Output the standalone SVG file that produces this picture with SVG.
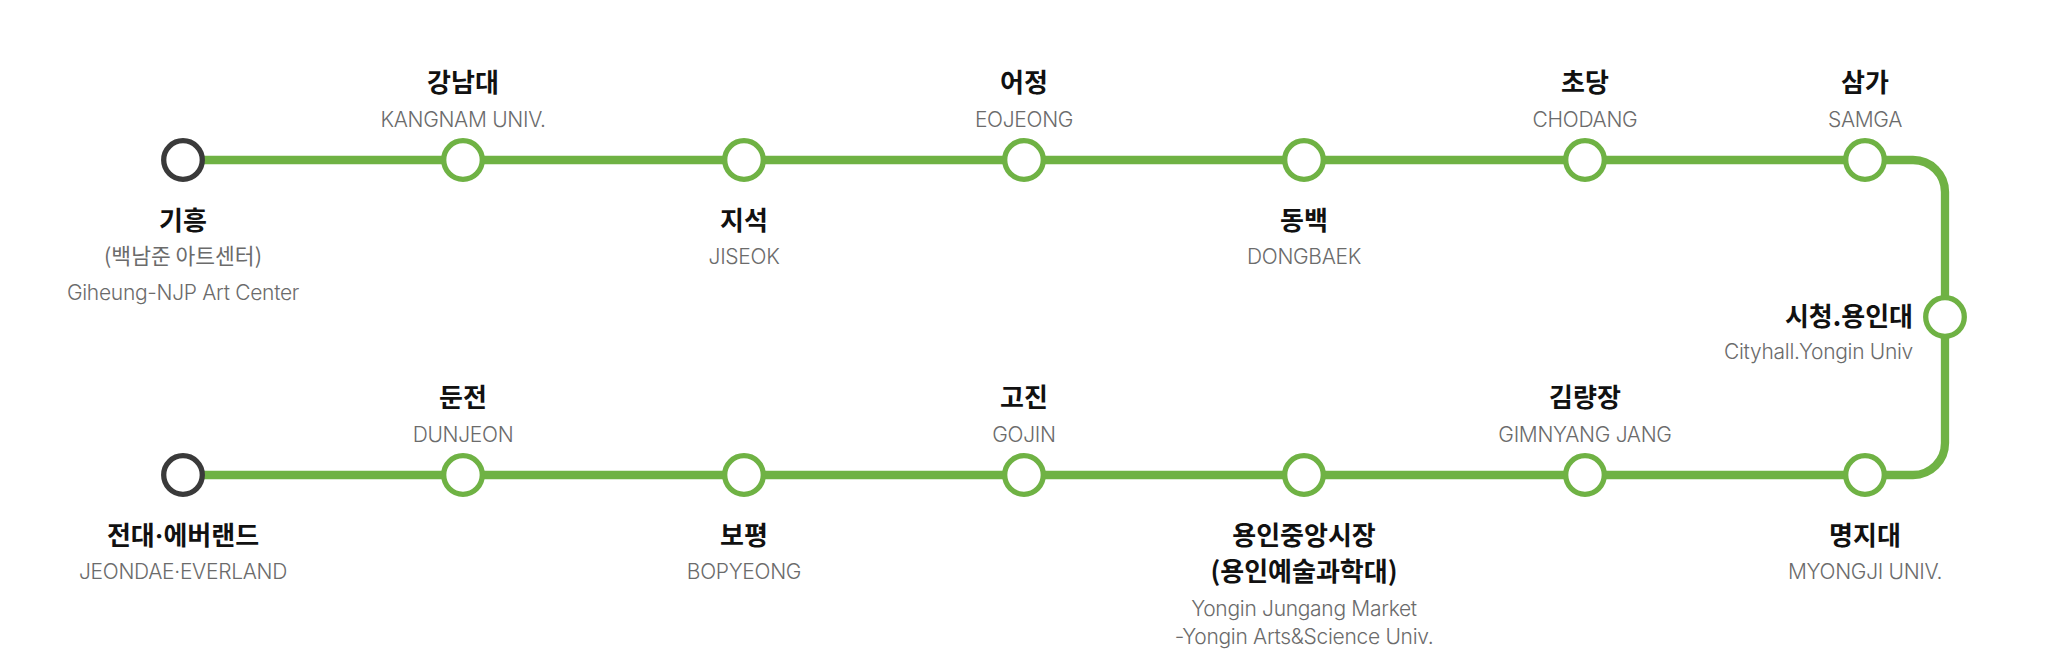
<svg xmlns="http://www.w3.org/2000/svg" width="2069" height="665" viewBox="0 0 2069 665">
<style>
.ko{font-family:"Noto Sans CJK KR","Noto Sans",sans-serif;font-weight:700;font-size:26px;fill:#111;text-anchor:middle}
.ks{font-family:"Noto Sans CJK KR","Noto Sans",sans-serif;font-weight:400;font-size:21.5px;fill:#6b6b6b;text-anchor:middle}
.en{font-family:Inter,"Liberation Sans",sans-serif;font-weight:300;font-size:21px;fill:#6b6b6b;text-anchor:middle;letter-spacing:-0.3px}
.dot{font-family:Inter,"Liberation Sans",sans-serif;font-weight:700}
.st{fill:#fff;stroke:#6fb244;stroke-width:5.3}
.term{fill:#fff;stroke:#3a3a3a;stroke-width:5.3}
.end{text-anchor:end}
</style>
<rect width="2069" height="665" fill="#fff"/>
<g id="connectors">
<path d="M183,160 H1913 A32,32 0 0 1 1945,192 V443 A32,32 0 0 1 1913,475 H183" fill="none" stroke="#6fb244" stroke-width="8.3"/>
</g>
<g id="giheung"><circle class="term" cx="183" cy="160" r="19.3"/><text class="ko" x="183" y="230">기흥</text><text class="ks" x="183" y="264">(백남준 아트센터)</text><text class="en" x="183" y="300">Giheung-NJP Art Center</text></g>
<g id="kangnam"><circle class="st" cx="463" cy="160" r="19.3"/><text class="ko" x="463" y="92">강남대</text><text class="en" x="463" y="127">KANGNAM UNIV.</text></g>
<g id="jiseok"><circle class="st" cx="744" cy="160" r="19.3"/><text class="ko" x="744" y="230">지석</text><text class="en" x="744" y="264">JISEOK</text></g>
<g id="eojeong"><circle class="st" cx="1024" cy="160" r="19.3"/><text class="ko" x="1024" y="92">어정</text><text class="en" x="1024" y="127">EOJEONG</text></g>
<g id="dongbaek"><circle class="st" cx="1304" cy="160" r="19.3"/><text class="ko" x="1304" y="230">동백</text><text class="en" x="1304" y="264">DONGBAEK</text></g>
<g id="chodang"><circle class="st" cx="1585" cy="160" r="19.3"/><text class="ko" x="1585" y="92">초당</text><text class="en" x="1585" y="127">CHODANG</text></g>
<g id="samga"><circle class="st" cx="1865" cy="160" r="19.3"/><text class="ko" x="1865" y="92">삼가</text><text class="en" x="1865" y="127">SAMGA</text></g>
<g id="cityhall"><circle class="st" cx="1945" cy="317" r="19.3"/><text class="ko end" x="1913" y="326">시청.용인대</text><text class="en end" x="1913" y="359">Cityhall.Yongin Univ</text></g>
<g id="myongji"><circle class="st" cx="1865" cy="475" r="19.3"/><text class="ko" x="1865" y="545">명지대</text><text class="en" x="1865" y="579">MYONGJI UNIV.</text></g>
<g id="gimnyangjang"><circle class="st" cx="1585" cy="475" r="19.3"/><text class="ko" x="1585" y="407">김량장</text><text class="en" x="1585" y="442">GIMNYANG JANG</text></g>
<g id="yongin-jungang"><circle class="st" cx="1304" cy="475" r="19.3"/><text class="ko" x="1304" y="545">용인중앙시장</text><text class="ko" x="1304" y="581">(용인예술과학대)</text><text class="en" x="1304" y="616">Yongin Jungang Market</text><text class="en" x="1304" y="644">-Yongin Arts&amp;Science Univ.</text></g>
<g id="gojin"><circle class="st" cx="1024" cy="475" r="19.3"/><text class="ko" x="1024" y="407">고진</text><text class="en" x="1024" y="442">GOJIN</text></g>
<g id="bopyeong"><circle class="st" cx="744" cy="475" r="19.3"/><text class="ko" x="744" y="545">보평</text><text class="en" x="744" y="579">BOPYEONG</text></g>
<g id="dunjeon"><circle class="st" cx="463" cy="475" r="19.3"/><text class="ko" x="463" y="407">둔전</text><text class="en" x="463" y="442">DUNJEON</text></g>
<g id="jeondae"><circle class="term" cx="183" cy="475" r="19.3"/><text class="ko" x="183" y="545">전대<tspan class="dot">·</tspan>에버랜드</text><text class="en" x="183" y="579">JEONDAE·EVERLAND</text></g>
</svg>
